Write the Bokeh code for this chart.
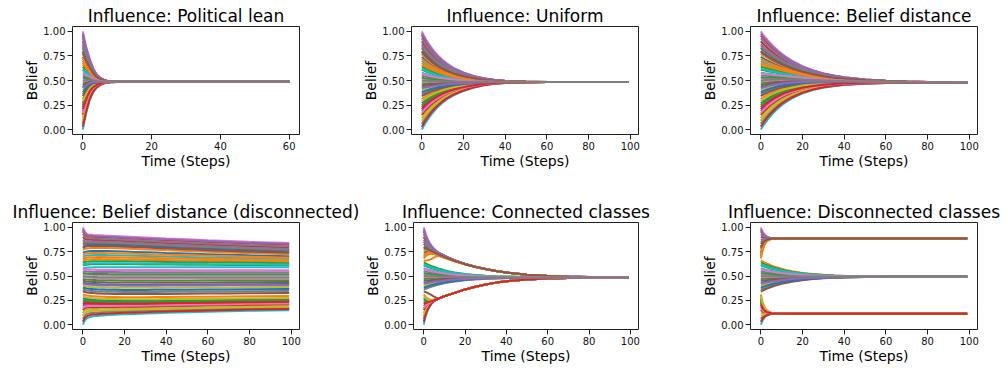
import numpy as np
from bokeh.plotting import figure
from bokeh.layouts import column, row
from bokeh.models import Range1d, FixedTicker, PrintfTickFormatter, ColumnDataSource
from bokeh.embed import file_html
from bokeh.resources import INLINE

FONT = "DejaVu Sans"
TAB10 = ["#1f77b4", "#ff7f0e", "#2ca02c", "#d62728", "#9467bd",
         "#8c564b", "#e377c2", "#7f7f7f", "#bcbd22", "#17becf"]

# ---- starting beliefs of the agents (same agents in every panel), in drawing order
START = [0.43, 0.66, 0.61, 0.90, 0.55, 0.23, 1.00, 0.36, 0.12, 0.00,
         0.74, 0.31, 0.47, 0.96, 0.19, 0.83, 0.52, 0.06, 0.40, 0.70,
         0.27, 0.77, 0.64, 0.15, 0.87, 0.34, 0.49, 0.93, 0.09, 0.58,
         0.80, 0.72, 0.25, 0.03, 0.98, 0.45, 0.17, 0.85, 0.29, 0.62,
         0.38, 0.68, 0.53, 0.21, 0.42, 0.79, 0.57, 0.50]

# ---- time samples
T_LEAN = [0, 1, 2, 3, 4, 5, 6, 7, 8, 10, 12, 15, 20, 30, 40, 50, 60]
T_STEPS = [0, 1, 2, 3, 4, 5, 6, 7, 8, 10, 12, 15, 20, 25, 30, 35, 40, 50, 60, 70, 80, 99]

# ---- Political lean: envelope of the trajectories
LEAN_TOP = [1.000, 0.840, 0.720, 0.625, 0.565, 0.530, 0.510, 0.498, 0.492, 0.488, 0.486, 0.486, 0.486, 0.486, 0.486, 0.486, 0.486]
LEAN_BOT = [0.000, 0.170, 0.300, 0.380, 0.425, 0.452, 0.468, 0.477, 0.482, 0.485, 0.486, 0.486, 0.486, 0.486, 0.486, 0.486, 0.486]

# ---- Uniform
UNI_TOP = [1.000, 0.959, 0.921, 0.886, 0.854, 0.824, 0.797, 0.772, 0.749, 0.709, 0.675, 0.632, 0.582, 0.547, 0.522, 0.506, 0.497, 0.489, 0.486, 0.485, 0.485, 0.485]
UNI_BOT = [0.000, 0.039, 0.075, 0.107, 0.138, 0.165, 0.191, 0.214, 0.236, 0.275, 0.307, 0.346, 0.393, 0.427, 0.452, 0.466, 0.474, 0.481, 0.484, 0.485, 0.485, 0.485]

# ---- Belief distance
DIST_TOP = [1.000, 0.971, 0.944, 0.919, 0.894, 0.872, 0.850, 0.830, 0.811, 0.775, 0.744, 0.703, 0.647, 0.606, 0.575, 0.552, 0.534, 0.511, 0.498, 0.490, 0.486, 0.482]
DIST_BOT = [0.000, 0.034, 0.065, 0.094, 0.121, 0.146, 0.169, 0.191, 0.211, 0.248, 0.279, 0.318, 0.368, 0.402, 0.426, 0.442, 0.454, 0.467, 0.474, 0.477, 0.479, 0.480]

# ---- Belief distance (disconnected): two groups, three guide trajectories each
DISC_UP_TOP = [1.000, 0.955, 0.930, 0.925, 0.923, 0.921, 0.920, 0.919, 0.918, 0.916, 0.914, 0.911, 0.906, 0.901, 0.896, 0.891, 0.886, 0.877, 0.868, 0.860, 0.852, 0.840]
DISC_UP_MID = [0.800, 0.810, 0.815, 0.818, 0.820, 0.820, 0.820, 0.820, 0.820, 0.819, 0.818, 0.816, 0.812, 0.807, 0.802, 0.797, 0.792, 0.783, 0.774, 0.766, 0.758, 0.745]
DISC_UP_BOT = [0.580, 0.583, 0.585, 0.587, 0.588, 0.589, 0.589, 0.590, 0.590, 0.590, 0.590, 0.590, 0.590, 0.590, 0.590, 0.590, 0.590, 0.590, 0.590, 0.590, 0.590, 0.590]
DISC_LO_TOP = [0.570, 0.568, 0.566, 0.565, 0.564, 0.563, 0.563, 0.562, 0.562, 0.562, 0.562, 0.562, 0.561, 0.561, 0.561, 0.561, 0.561, 0.560, 0.560, 0.560, 0.560, 0.560]
DISC_LO_MID = [0.280, 0.275, 0.270, 0.267, 0.264, 0.262, 0.260, 0.258, 0.257, 0.255, 0.253, 0.252, 0.250, 0.250, 0.250, 0.251, 0.252, 0.254, 0.256, 0.258, 0.260, 0.263]
DISC_LO_BOT = [0.000, 0.045, 0.065, 0.075, 0.081, 0.085, 0.088, 0.090, 0.092, 0.095, 0.098, 0.101, 0.106, 0.110, 0.114, 0.118, 0.121, 0.127, 0.133, 0.138, 0.142, 0.148]

# ---- Connected classes
CONN_LO_BOT = [0.000, 0.090, 0.150, 0.190, 0.220, 0.240, 0.255, 0.265, 0.275, 0.292, 0.306, 0.327, 0.362, 0.390, 0.413, 0.432, 0.446, 0.464, 0.474, 0.479, 0.482, 0.484]
CONN_LO_TOP = [0.310, 0.283, 0.266, 0.258, 0.255, 0.256, 0.260, 0.266, 0.275, 0.292, 0.306, 0.327, 0.362, 0.390, 0.413, 0.432, 0.446, 0.464, 0.474, 0.479, 0.482, 0.484]
CONN_MID_EDGE_LO = [0.340, 0.335, 0.325, 0.313, 0.300, 0.288, 0.278, 0.272, 0.276, 0.292, 0.306, 0.327, 0.362, 0.390, 0.413, 0.432, 0.446, 0.464, 0.474, 0.479, 0.482, 0.484]
CONN_MID_BOT = [0.360, 0.369, 0.377, 0.385, 0.392, 0.398, 0.404, 0.410, 0.415, 0.425, 0.433, 0.443, 0.456, 0.465, 0.471, 0.475, 0.478, 0.482, 0.483, 0.484, 0.485, 0.485]
CONN_MID_TOP = [0.640, 0.629, 0.619, 0.610, 0.601, 0.593, 0.585, 0.578, 0.572, 0.560, 0.550, 0.537, 0.521, 0.510, 0.503, 0.497, 0.494, 0.489, 0.487, 0.486, 0.485, 0.485]
CONN_MID_EDGE_HI = [0.660, 0.658, 0.662, 0.668, 0.677, 0.690, 0.702, 0.710, 0.703, 0.688, 0.673, 0.652, 0.620, 0.593, 0.570, 0.551, 0.535, 0.513, 0.500, 0.493, 0.489, 0.486]
CONN_UP_BOT = [0.680, 0.705, 0.720, 0.727, 0.728, 0.725, 0.719, 0.712, 0.703, 0.688, 0.673, 0.652, 0.620, 0.593, 0.570, 0.551, 0.535, 0.513, 0.500, 0.493, 0.489, 0.486]
CONN_UP_TOP = [1.000, 0.930, 0.875, 0.835, 0.805, 0.780, 0.760, 0.745, 0.733, 0.712, 0.690, 0.662, 0.625, 0.596, 0.572, 0.552, 0.536, 0.514, 0.501, 0.494, 0.490, 0.486]

# ---- Disconnected classes
DCL_UP_TOP = [1.000, 0.950, 0.922, 0.905, 0.896, 0.891, 0.889, 0.887, 0.886, 0.886, 0.886, 0.886, 0.886, 0.886, 0.886, 0.886, 0.886, 0.886, 0.886, 0.886, 0.886, 0.886]
DCL_UP_BOT = [0.680, 0.775, 0.830, 0.858, 0.872, 0.879, 0.883, 0.885, 0.886, 0.886, 0.886, 0.886, 0.886, 0.886, 0.886, 0.886, 0.886, 0.886, 0.886, 0.886, 0.886, 0.886]
DCL_MID_TOP = [0.660, 0.648, 0.637, 0.627, 0.618, 0.609, 0.601, 0.594, 0.587, 0.574, 0.563, 0.549, 0.532, 0.520, 0.512, 0.506, 0.502, 0.498, 0.495, 0.494, 0.493, 0.493]
DCL_MID_BOT = [0.340, 0.351, 0.361, 0.370, 0.379, 0.387, 0.394, 0.401, 0.407, 0.419, 0.429, 0.441, 0.457, 0.468, 0.476, 0.481, 0.485, 0.489, 0.491, 0.492, 0.493, 0.493]
DCL_LO_TOP = [0.310, 0.220, 0.172, 0.145, 0.131, 0.123, 0.118, 0.116, 0.114, 0.113, 0.113, 0.113, 0.113, 0.113, 0.113, 0.113, 0.113, 0.113, 0.113, 0.113, 0.113, 0.113]
DCL_LO_BOT = [0.000, 0.050, 0.078, 0.094, 0.103, 0.108, 0.111, 0.112, 0.113, 0.113, 0.113, 0.113, 0.113, 0.113, 0.113, 0.113, 0.113, 0.113, 0.113, 0.113, 0.113, 0.113]

Y_TICKS = [0.0, 0.25, 0.5, 0.75, 1.0]
X_TICKS_LEAN = [0, 20, 40, 60]
X_TICKS_STEPS = [0, 20, 40, 60, 80, 100]

PANELS = [
    ("Influence: Political lean", T_LEAN, X_TICKS_LEAN,
     [([0.0, 1.0], [LEAN_BOT, LEAN_TOP])]),
    ("Influence: Uniform", T_STEPS, X_TICKS_STEPS,
     [([0.0, 1.0], [UNI_BOT, UNI_TOP])]),
    ("Influence: Belief distance", T_STEPS, X_TICKS_STEPS,
     [([0.0, 1.0], [DIST_BOT, DIST_TOP])]),
    ("Influence: Belief distance (disconnected)", T_STEPS, X_TICKS_STEPS,
     [([0.0, 0.28, 0.57], [DISC_LO_BOT, DISC_LO_MID, DISC_LO_TOP]),
      ([0.58, 0.80, 1.0], [DISC_UP_BOT, DISC_UP_MID, DISC_UP_TOP])]),
    ("Influence: Connected classes", T_STEPS, X_TICKS_STEPS,
     [([0.0, 0.31], [CONN_LO_BOT, CONN_LO_TOP]),
      ([0.34, 0.36, 0.64, 0.66], [CONN_MID_EDGE_LO, CONN_MID_BOT, CONN_MID_TOP, CONN_MID_EDGE_HI]),
      ([0.68, 1.0], [CONN_UP_BOT, CONN_UP_TOP])]),
    ("Influence: Disconnected classes", T_STEPS, X_TICKS_STEPS,
     [([0.0, 0.31], [DCL_LO_BOT, DCL_LO_TOP]),
      ([0.34, 0.66], [DCL_MID_BOT, DCL_MID_TOP]),
      ([0.68, 1.0], [DCL_UP_BOT, DCL_UP_TOP])]),
]

# (width, min_border_left, min_border_right, height, min_border_top, min_border_bottom)
GEOM = [
    (347, 72, 48, 190, 26, 56),
    (339, 64, 48, 190, 26, 56),
    (317, 64, 26, 190, 26, 56),
    (362, 72, 63, 176, 32, 36),
    (324, 49, 48, 176, 32, 36),
    (317, 64, 26, 176, 32, 36),
]


def trajectories(groups, T):
    xs, ys, cols = [], [], []
    for i, s in enumerate(START):
        for anchors, curves in groups:
            if anchors[0] - 1e-9 <= s <= anchors[-1] + 1e-9:
                C = np.array(curves)
                y = [float(np.interp(s, anchors, C[:, j])) for j in range(len(T))]
                xs.append(list(T))
                ys.append(y)
                cols.append(TAB10[i % 10])
                break
    return xs, ys, cols


def make_panel(spec, geom):
    title, T, xticks, groups = spec
    w, mbl, mbr, h, mbt, mbb = geom
    xmax = T[-1]
    p = figure(width=w, height=h, output_backend="svg", toolbar_location=None,
               x_range=Range1d(-0.05 * xmax, 1.05 * xmax), y_range=Range1d(-0.05, 1.05),
               min_border_left=mbl, min_border_right=mbr,
               min_border_top=mbt, min_border_bottom=mbb,
               x_axis_label="Time (Steps)", y_axis_label="Belief")
    p.title.text = title
    p.title.align = "center"
    p.title.text_font = FONT
    p.title.text_font_size = "17px"
    p.title.text_font_style = "normal"
    p.title.text_color = "#000000"
    p.title.standoff = 1
    p.grid.visible = False
    p.outline_line_color = "#222222"
    p.outline_line_width = 1
    p.background_fill_color = "white"
    p.border_fill_color = "white"
    p.xaxis.ticker = FixedTicker(ticks=xticks)
    p.yaxis.ticker = FixedTicker(ticks=Y_TICKS)
    p.yaxis.formatter = PrintfTickFormatter(format="%.2f")
    for ax in (p.xaxis[0], p.yaxis[0]):
        ax.major_label_text_font = FONT
        ax.major_label_text_font_size = "10px"
        ax.major_label_text_color = "#111111"
        ax.axis_label_text_font = FONT
        ax.axis_label_text_font_size = "14px"
        ax.axis_label_text_font_style = "normal"
        ax.axis_label_text_color = "#000000"
        ax.axis_label_standoff = 0
        ax.major_label_standoff = 2
        ax.major_tick_out = 5
        ax.major_tick_in = 0
        ax.minor_tick_out = 0
        ax.minor_tick_in = 0
        ax.axis_line_color = None
        ax.major_tick_line_color = "#222222"
    xs, ys, cols = trajectories(groups, T)
    src = ColumnDataSource(dict(xs=xs, ys=ys, color=cols))
    p.multi_line(xs="xs", ys="ys", line_color="color", line_width=2, source=src)
    return p


figs = [make_panel(s, g) for s, g in zip(PANELS, GEOM)]
layout = column(row(*figs[:3]), row(*figs[3:]))

open("out.html", "w").write(file_html(layout, INLINE))
